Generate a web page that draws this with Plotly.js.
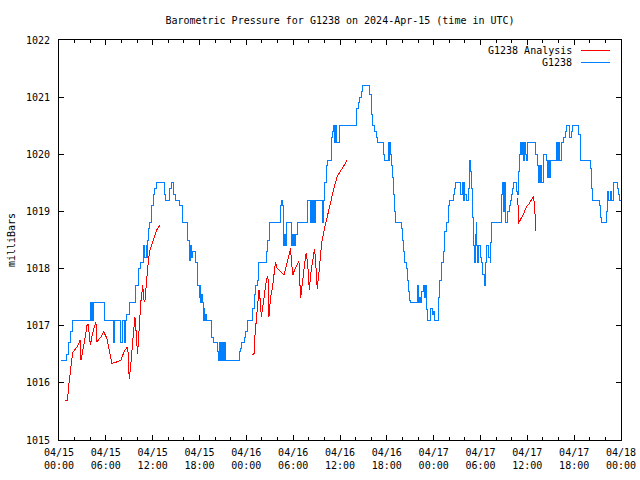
<!DOCTYPE html>
<html>
<head>
<meta charset="utf-8">
<script src="https://cdn.plot.ly/plotly-3.0.1.min.js"></script>
<style>
html,body{margin:0;padding:0;background:#fff;}
#chart{width:640px;height:480px;}
#chart .scatterlayer path, #chart .shapelayer path { shape-rendering: crispEdges; }
</style>
</head>
<body>
<div id="chart"></div>
<script>
// hours since 2024-04-15 00:00 UTC
const blueHours = [0.2,1.02,1.19,1.45,1.75,4.0,4.1,4.18,4.28,4.4,5.8,6.95,7.12,7.84,8.1,8.44,8.57,8.7,8.99,9.85,10.14,10.4,10.83,11.0,11.16,11.25,11.34,11.47,11.64,11.9,12.1,12.28,12.45,13.46,13.68,14.2,14.4,14.7,14.96,15.5,15.8,16.5,16.75,16.88,17.0,17.14,17.5,17.74,17.95,18.03,18.16,18.25,18.38,18.45,18.55,18.67,18.8,18.93,19.5,19.73,20.3,20.42,20.5,20.6,20.72,20.8,21.0,21.1,21.23,21.3,23.06,23.19,23.37,23.8,23.92,24.13,24.85,25.07,25.2,25.4,25.6,26.56,26.77,27.02,28.4,28.52,28.65,28.8,28.9,29.0,29.12,29.76,29.9,29.97,30.1,30.22,30.31,30.53,31.8,32.23,32.36,32.48,32.61,32.74,32.87,33.76,33.88,33.95,34.24,34.44,34.87,35.0,35.13,35.34,35.46,35.55,35.98,38.1,38.33,38.53,38.71,38.84,39.8,40.03,40.12,40.45,40.63,40.76,41.53,41.73,42.17,42.3,42.38,42.46,42.59,42.68,42.88,42.97,43.1,43.83,44.0,44.16,44.29,44.5,44.67,44.8,44.93,45.02,45.87,45.95,46.08,46.2,46.3,46.5,46.72,46.85,46.94,47.07,47.2,47.58,47.79,48.0,48.13,48.56,48.77,48.98,49.2,49.4,49.6,49.84,49.92,50.04,50.48,50.65,50.8,51.5,51.67,51.76,51.92,52.0,52.17,52.47,52.6,52.78,52.9,53.03,53.11,53.24,53.37,53.45,53.54,53.67,53.75,53.97,54.19,54.3,54.57,54.7,54.83,55.04,55.26,55.34,55.47,56.75,56.82,56.95,57.08,57.17,57.5,57.68,57.8,58.0,58.14,58.2,58.66,58.79,58.87,59.0,59.18,59.26,59.34,59.47,59.6,59.72,59.85,60.02,61.1,61.26,61.43,61.56,61.65,61.77,61.86,62.07,62.41,62.54,62.67,62.8,62.92,63.78,63.91,64.04,64.17,64.42,64.63,64.84,65.06,65.35,65.61,65.78,66.55,66.76,66.85,68.04,68.26,68.38,69.23,69.4,69.53,70.08,70.25,70.38,70.6,70.81,71.0,71.5,71.68,71.8,72.0];
const bluePressure = [1016.4,1016.5,1016.7,1016.9,1017.1,1017.4,1017.1,1017.4,1017.1,1017.4,1017.1,1016.7,1017.1,1016.7,1017.1,1016.7,1017.1,1017.2,1017.4,1017.7,1018.0,1018.1,1018.4,1018.2,1018.4,1018.2,1018.5,1018.7,1018.8,1019.1,1019.3,1019.4,1019.5,1019.3,1019.2,1019.4,1019.5,1019.3,1019.2,1019.1,1018.8,1018.5,1018.15,1018.4,1018.2,1018.3,1018.1,1017.7,1017.5,1017.7,1017.4,1017.55,1017.4,1017.1,1017.3,1017.1,1017.2,1017.1,1016.8,1016.7,1016.55,1016.4,1016.7,1016.4,1016.7,1016.4,1016.7,1016.4,1016.7,1016.4,1016.55,1016.6,1016.7,1016.8,1016.9,1017.1,1017.3,1017.55,1017.7,1017.8,1018.1,1018.3,1018.5,1018.8,1019.1,1019.2,1019.1,1018.4,1018.6,1018.4,1018.8,1018.4,1018.6,1018.4,1018.6,1018.4,1018.6,1018.8,1019.2,1018.8,1019.2,1018.8,1019.2,1018.8,1019.2,1018.8,1019.2,1019.5,1019.8,1019.9,1020.3,1020.4,1020.5,1020.2,1020.5,1020.2,1020.5,1020.8,1020.9,1021.0,1021.1,1021.2,1021.05,1020.7,1020.5,1020.4,1020.3,1020.2,1020.0,1019.9,1020.2,1019.9,1020.2,1020.0,1019.8,1019.6,1019.3,1019.0,1018.8,1018.7,1018.5,1018.3,1018.1,1018.0,1017.8,1017.6,1017.45,1017.4,1017.5,1017.7,1017.4,1017.5,1017.4,1017.6,1017.7,1017.5,1017.7,1017.28,1017.1,1017.3,1017.2,1017.25,1017.1,1017.5,1017.8,1018.1,1018.3,1018.65,1018.8,1018.9,1019.1,1019.2,1019.3,1019.4,1019.5,1019.3,1019.5,1019.2,1019.5,1019.3,1019.2,1019.4,1019.9,1019.7,1019.4,1018.9,1018.4,1018.1,1018.6,1018.8,1018.4,1018.1,1018.4,1018.2,1018.1,1017.9,1017.7,1018.1,1018.4,1018.2,1018.1,1018.45,1018.8,1019.3,1019.5,1019.0,1019.5,1018.8,1019.0,1019.1,1019.2,1019.3,1019.4,1019.5,1019.35,1019.3,1019.7,1020.0,1020.2,1020.0,1020.2,1019.9,1020.2,1020.0,1019.9,1020.2,1020.0,1019.8,1019.5,1019.8,1019.5,1019.8,1019.5,1020.0,1019.9,1019.6,1019.9,1019.6,1019.9,1020.2,1019.9,1020.2,1019.9,1020.2,1020.3,1020.4,1020.5,1020.3,1020.4,1020.5,1020.35,1020.05,1019.9,1019.75,1019.4,1019.2,1019.1,1018.9,1018.8,1019.0,1019.35,1019.2,1019.35,1019.2,1019.5,1019.4,1019.3,1019.2,1019.2];

// analysis series (null separates the three pieces)
const redHours = [0.77,1.1,1.2,1.32,1.53,1.75,2.3,2.73,2.81,2.9,3.03,3.33,3.58,3.75,4.01,4.31,4.6,4.73,4.86,5.37,5.71,6.14,6.48,6.78,7.5,7.93,8.35,8.78,8.91,8.99,9.21,9.42,9.72,9.85,9.98,10.06,10.27,10.49,10.74,10.83,11.0,11.17,11.34,11.6,12.06,12.53,12.92,
  13.5,
  24.77,24.98,25.07,25.2,25.32,25.49,25.62,25.75,25.92,26.18,26.35,26.6,26.77,26.9,27.11,27.33,27.62,27.75,27.88,28.39,28.82,29.24,29.46,29.67,29.8,29.97,30.18,30.61,30.74,30.95,31.21,31.5,31.67,31.8,31.97,32.06,32.31,32.74,32.87,33.08,33.34,33.64,33.93,34.36,34.79,35.21,35.64,36.07,36.49,36.92,
  40.0,
  58.79,58.85,59.5,59.85,60.3,60.79,60.95,61.0,61.09];
const redPressure = [1015.7,1015.7,1015.9,1016.05,1016.34,1016.53,1016.63,1016.75,1016.4,1016.45,1016.55,1016.78,1017.0,1017.03,1016.66,1016.87,1017.0,1017.07,1016.72,1016.8,1016.9,1016.78,1016.55,1016.34,1016.37,1016.4,1016.55,1016.63,1016.43,1016.06,1016.34,1016.69,1017.16,1016.95,1016.66,1016.5,1016.95,1017.42,1017.71,1017.47,1017.42,1017.76,1017.98,1018.3,1018.5,1018.68,1018.76,
  null,
  1016.5,1016.5,1016.78,1016.95,1017.13,1017.33,1017.62,1017.48,1017.16,1017.4,1017.62,1017.83,1017.86,1017.16,1017.5,1017.65,1017.98,1018.12,1018.02,1017.95,1017.89,1018.12,1018.27,1018.35,1018.1,1017.89,1017.98,1018.1,1018.13,1017.48,1017.83,1018.12,1018.27,1018.15,1017.88,1017.62,1017.98,1018.34,1018.15,1017.65,1017.98,1018.44,1018.65,1018.91,1019.14,1019.4,1019.61,1019.72,1019.8,1019.9,
  null,
  1019.23,1018.79,1018.95,1019.07,1019.15,1019.27,1019.05,1018.79,1018.65];

const seriesNames = ['G1238 Analysis', 'G1238'];
const xTickHours = [0,6,12,18,24,30,36,42,48,54,60,66,72];
const xTickText = ['04/15<br>00:00','04/15<br>06:00','04/15<br>12:00','04/15<br>18:00','04/16<br>00:00','04/16<br>06:00','04/16<br>12:00','04/16<br>18:00','04/17<br>00:00','04/17<br>06:00','04/17<br>12:00','04/17<br>18:00','04/18<br>00:00'];
const yTicks = [1015,1016,1017,1018,1019,1020,1021,1022];

const FONT = 'DejaVu Sans Mono, monospace';
const RED = '#ff0000', BLUE = '#0080ff';

const traces = [
  {x: redHours, y: redPressure, type: 'scatter', mode: 'lines', name: seriesNames[0],
   line: {color: RED, width: 1}, connectgaps: false, showlegend: false},
  {x: blueHours, y: bluePressure, type: 'scatter', mode: 'lines', name: seriesNames[1],
   line: {color: BLUE, width: 1, shape: 'hv'}, showlegend: false}
];

// legend drawn gnuplot-style: text left, sample line right
const L = 59, R = 621, T = 40, B = 440;
const px2x = p => (p - L) / (R - L);
const px2y = p => (B - p) / (B - T);
const legendRows = [{y: 50.5, color: RED}, {y: 62.5, color: BLUE}];
const annotations = legendRows.map((r, i) => ({
  xref: 'paper', yref: 'paper', x: px2x(574), y: px2y(r.y), xanchor: 'right', yanchor: 'middle',
  text: seriesNames[i], showarrow: false, font: {family: FONT, size: 10, color: '#000'}
}));
const shapes = legendRows.map(r => ({
  type: 'line', xref: 'paper', yref: 'paper', x0: px2x(581), x1: px2x(610), y0: px2y(r.y), y1: px2y(r.y),
  line: {color: r.color, width: 1}
}));

const layout = {
  width: 640, height: 480,
  margin: {l: L, r: 640 - R, t: T, b: 480 - B, pad: 0},
  paper_bgcolor: '#fff', plot_bgcolor: '#fff',
  font: {family: FONT, size: 10, color: '#000'},
  title: {text: 'Barometric Pressure for G1238 on 2024-Apr-15 (time in UTC)', font: {family: FONT, size: 10, color: '#000'},
          x: 0.5, xref: 'paper', xanchor: 'center', y: 1 - 20/480, yref: 'container', yanchor: 'middle'},
  xaxis: {range: [0, 72], tickmode: 'array', tickvals: xTickHours, ticktext: xTickText,
          showgrid: false, zeroline: false, showline: true, linecolor: '#000', linewidth: 1, mirror: 'allticks',
          ticks: 'inside', ticklen: 5, tickwidth: 1, tickcolor: '#000', ticklabelstandoff: 3,
          minor: {tickmode: 'linear', tick0: 0, dtick: 2, ticks: 'inside', ticklen: 3, tickcolor: '#000', showgrid: false},
          tickfont: {family: FONT, size: 10}, automargin: false, fixedrange: true},
  yaxis: {range: [1015, 1022], tickmode: 'array', tickvals: yTicks, ticktext: yTicks.map(String),
          showgrid: false, zeroline: false, showline: true, linecolor: '#000', linewidth: 1, mirror: 'allticks',
          ticks: 'inside', ticklen: 5, tickwidth: 1, tickcolor: '#000', ticklabelstandoff: 6,
          tickfont: {family: FONT, size: 10}, automargin: false, fixedrange: true,
          title: {text: 'milliBars', font: {family: FONT, size: 10}, standoff: 8}},
  annotations: annotations, shapes: shapes, showlegend: false
};

Plotly.newPlot('chart', traces, layout, {staticPlot: true, displayModeBar: false});
</script>
</body>
</html>
